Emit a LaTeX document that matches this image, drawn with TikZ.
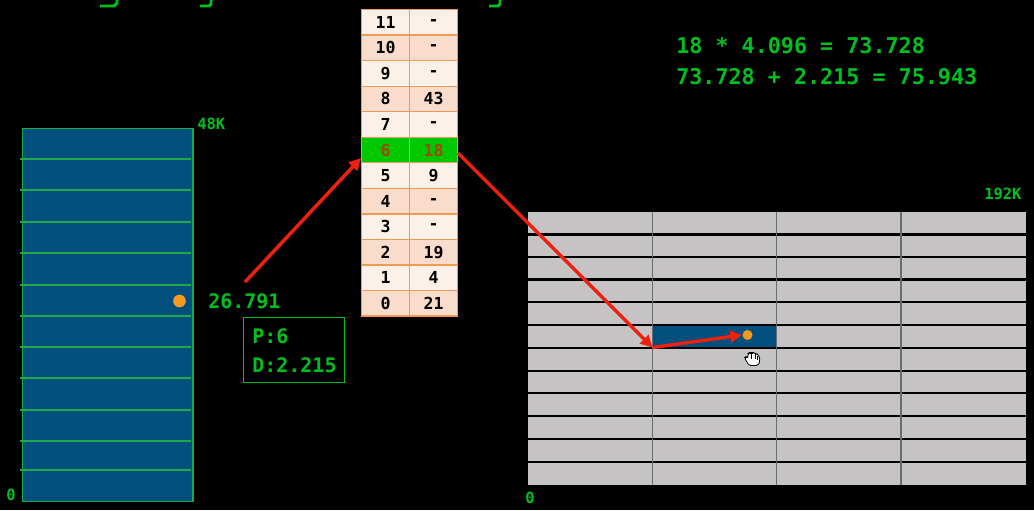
\documentclass[tikz,border=0pt]{standalone}
\usepackage{fontspec}
\setmonofont{DejaVu Sans Mono}
\usetikzlibrary{arrows.meta}
\definecolor{scrgreen}{HTML}{00C020}
\definecolor{cellgreen}{HTML}{00C800}
\definecolor{memblue}{HTML}{004F7C}
\definecolor{linegreen}{HTML}{1FA84A}
\definecolor{memgray}{HTML}{C5C3C3}
\definecolor{rowlight}{HTML}{FCF1E8}
\definecolor{rowdark}{HTML}{F9DCCB}
\definecolor{cellline}{HTML}{EE9A50}
\definecolor{dotorange}{HTML}{F59A1E}
\definecolor{arrowred}{HTML}{EE2010}
\definecolor{hitred}{HTML}{A8430A}
\tikzset{
  lbl/.style={inner sep=0pt,anchor=base west,text=scrgreen,font=\ttfamily\bfseries\fontsize{15}{15}\selectfont},
  lblbig/.style={lbl,font=\ttfamily\bfseries\fontsize{16.3}{16}\selectfont},
  lblsmall/.style={lbl,font=\ttfamily\bfseries\fontsize{11.6}{12}\selectfont},
  cell/.style={draw=cellline,line width=0.9pt,minimum width=36pt,minimum height=19.1pt,inner sep=0pt,text=black,font=\ttfamily\bfseries\fontsize{12.4}{12}\selectfont},
  lightc/.style={cell,fill=rowlight},
  darkc/.style={cell,fill=rowdark},
  hitc/.style={cell,fill=cellgreen,text=hitred},
  redarrow/.style={draw=arrowred,line width=2.6pt,-{Triangle[length=9pt,width=9pt]}},
  dot/.style={circle,fill=dotorange,inner sep=0pt},
  gridl/.style={draw=linegreen,line width=0.8pt},
  barl/.style={draw=black,line width=1.9pt},
  vbar/.style={draw=gray!85!black,line width=0.9pt},
  frag/.style={draw=scrgreen,line width=2.2pt}
}
\begin{document}
\begin{tikzpicture}[x=0.75pt,y=-0.75pt]
\useasboundingbox (0,0) rectangle (1034,510);
\fill[black] (0,0) rectangle (1034,510);
% top cut-off glyphs, drawn as shapes
\draw[frag] (100,6) -- (114,6) -- (117,3) -- (117,0);
\draw[frag] (200,6) -- (209,6) -- (211,4) -- (211,0);
\draw[frag] (489,6) -- (498,6) -- (500,4) -- (500,0);
% left memory
\node[draw=linegreen,fill=memblue,line width=1pt,minimum width=128.2pt,minimum height=279.7pt,inner sep=0pt,anchor=north west] (logical) at (21.5,128) {};
\foreach \y in {159,190,222,253,285,316,347,378,410,441,470}
  \draw[gridl] (19.5,\y) -- (190.5,\y);
\node[dot,minimum size=9.5pt] (ldot) at (179.5,301) {};
\node[lblsmall] (l48) at (197,129) {48K};
\node[lblsmall] (l0) at (6,500.5) {0};
% right memory
\node[fill=memgray,minimum width=373.5pt,minimum height=204.75pt,inner sep=0pt,anchor=north west] (physical) at (528,212) {};
\fill[memblue] (652.5,325) rectangle (776.5,348);
\foreach \y in {234.5,257,279.5,302,325,348,371,393,416,439,462}
  \draw[barl] (528,\y) -- (1026,\y);
\foreach \x in {652.5,776.5,901}
  \draw[vbar] (\x,212) -- (\x,485);
\coordinate (frame) at (652.5,347.5);
\node[dot,minimum size=7.5pt] (rdot) at (747.5,335) {};
\node[lblsmall] (r192) at (984,199) {192K};
\node[lblsmall] (r0) at (525,503) {0};
% page table
\foreach \n/\v/\k [count=\i from 0] in {11/-/lightc,10/-/darkc,9/-/lightc,8/43/darkc,7/-/lightc,6/18/hitc,5/9/lightc,4/-/darkc,3/-/lightc,2/19/darkc,1/4/lightc,0/21/darkc}{
  \node[\k] (p\n) at (385.5,{22.3+25.55*\i}) {\n};
  \node[\k] (f\n) at (433.5,{22.3+25.55*\i}) {\v};
}
\coordinate (intip) at (361,158);
\coordinate (outstart) at (458,153);
% labels
\node[lbl] (addr) at (208,308.5) {26.791};
\coordinate (addrstart) at (245,282);
\node[draw=scrgreen,line width=0.9pt,minimum width=75.5pt,minimum height=48.5pt,inner sep=0pt,anchor=north west] (pd) at (243,317) {};
\node[lbl] (ptxt) at (252,343) {P:6};
\node[lbl] (dtxt) at (252,372) {D:2.215};
\node[lblbig] (eq1) at (676,54) {18 * 4.096 = 73.728};
\node[lblbig] (eq2) at (676,84.5) {73.728 + 2.215 = 75.943};
% connectors
\draw[redarrow] (addrstart) -- (intip);
\draw[redarrow] (outstart) -- (frame);
\draw[redarrow] (frame) -- (rdot.west);
% hand cursor
\fill[white,draw=black,line width=0.6pt,rounded corners=1.2pt] (747,362) -- (744.5,358) -- (746,356.5) -- (748,358) -- (748,353.5) -- (750,352.5) -- (751.5,353.5) -- (753,352.5) -- (755,353.5) -- (757,354) -- (759,355.5) -- (760,361) -- (758,365.5) -- (749,365.5) -- cycle;
\draw[black,line width=0.5pt] (751.5,354) -- (751.5,359) (755,354) -- (755,359) (757.7,355.5) -- (757.7,359.5);
\end{tikzpicture}
\end{document}
